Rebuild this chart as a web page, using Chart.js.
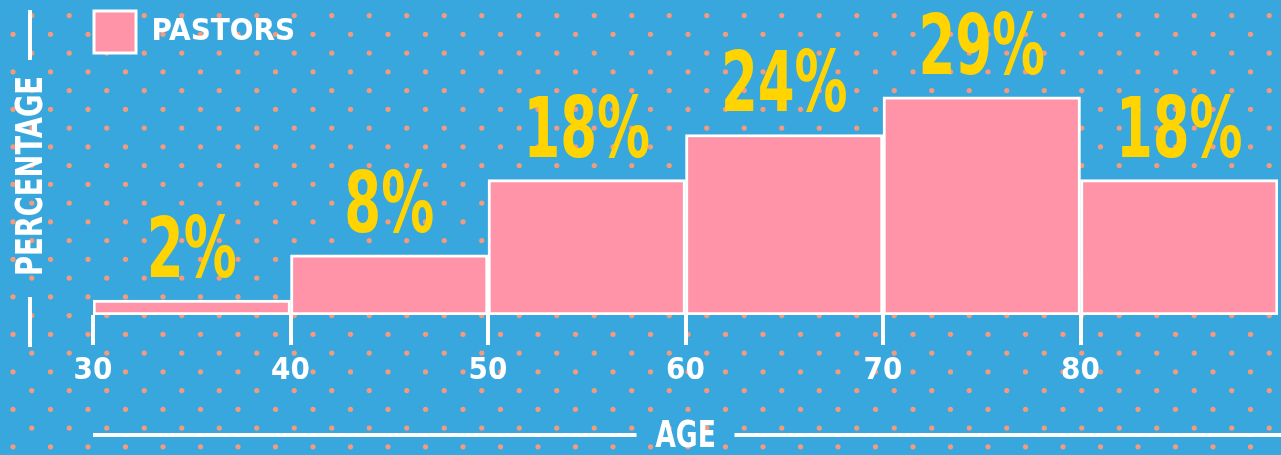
<!DOCTYPE html>
<html>
<head>
<meta charset="utf-8">
<script src="https://cdn.jsdelivr.net/npm/chart.js@4/dist/chart.umd.min.js"></script>
<style>
html, body { margin: 0; padding: 0; background: #38a7de; overflow: hidden; }
</style>
</head>
<body>
<canvas id="ageChart" width="1281" height="455"></canvas>
<script>
// histogram data: age bins of 10 years, share of pastors in %
const binStarts = [30, 40, 50, 60, 70, 80];
const binWidth = 10;
const pastors = [2, 8, 18, 24, 29, 18];
const tickValues = [30, 40, 50, 60, 70, 80, 90];
const seriesName = 'PASTORS';
const xTitle = 'AGE';
const yTitle = 'PERCENTAGE';

const FONT = "'DejaVu Sans Condensed', 'Liberation Sans Narrow', Roboto, sans-serif";
const BLUE = '#38a7de';
const DOT = '#f59a7b';
const PINK = '#ff93a8';
const YELLOW = '#ffd400';

// blue backdrop with the staggered dot pattern
const dotBackground = {
  id: 'dotBackground',
  beforeDraw(chart) {
    const ctx = chart.ctx;
    ctx.save();
    ctx.fillStyle = BLUE;
    ctx.fillRect(0, 0, chart.width, chart.height);
    ctx.fillStyle = DOT;
    const step = 37.5;
    for (let y = -3.2; y < chart.height + step; y += step) {
      for (let x = 13; x < chart.width + step; x += step) {
        ctx.beginPath();
        ctx.arc(x, y + 37.5, 2.6, 0, Math.PI * 2);
        ctx.fill();
        ctx.beginPath();
        ctx.arc(x + step / 2, y + 18.8, 2.6, 0, Math.PI * 2);
        ctx.fill();
      }
    }
    ctx.restore();
  }
};

// squeezed text, the original uses a condensed face
function narrowText(ctx, text, x, y, sx) {
  ctx.save();
  ctx.translate(x, y);
  ctx.scale(sx, 1);
  ctx.fillText(text, 0, 0);
  ctx.restore();
}

// big yellow percentages above each bar
const valueLabels = {
  id: 'valueLabels',
  afterDatasetsDraw(chart) {
    const ctx = chart.ctx;
    const meta = chart.getDatasetMeta(0);
    ctx.save();
    ctx.fillStyle = YELLOW;
    ctx.font = 'bold 84px ' + FONT;
    ctx.textAlign = 'center';
    ctx.textBaseline = 'alphabetic';
    meta.data.forEach((bar, i) => {
      narrowText(ctx, pastors[i] + '%', bar.x, bar.y - 23, 0.7);
    });
    ctx.restore();
  }
};

// axis titles with the white rules beside them
const axisTitles = {
  id: 'axisTitles',
  afterDraw(chart) {
    const ctx = chart.ctx;
    const area = chart.chartArea;
    ctx.save();
    ctx.fillStyle = '#fff';
    ctx.strokeStyle = '#fff';
    ctx.lineWidth = 4;
    ctx.font = 'bold 38px ' + FONT;
    ctx.textAlign = 'center';
    ctx.textBaseline = 'middle';

    // bottom: ---- AGE ----
    const cx = (area.left + area.right) / 2;
    const by = 435;
    narrowText(ctx, xTitle, cx, by + 2, 0.78);
    ctx.beginPath();
    ctx.moveTo(area.left, by); ctx.lineTo(cx - 49, by);
    ctx.moveTo(cx + 49, by); ctx.lineTo(chart.width, by);
    ctx.stroke();

    // left: rotated PERCENTAGE between two short rules
    const lx = 30;
    ctx.beginPath();
    ctx.moveTo(lx, 10); ctx.lineTo(lx, 60);
    ctx.moveTo(lx, 297); ctx.lineTo(lx, 347);
    ctx.stroke();
    ctx.save();
    ctx.translate(lx + 2, 176);
    ctx.rotate(-Math.PI / 2);
    narrowText(ctx, yTitle, 0, 0, 0.8);
    ctx.restore();
    ctx.restore();
  }
};

new Chart(document.getElementById('ageChart'), {
  type: 'bar',
  data: {
    datasets: [{
      label: seriesName,
      data: binStarts.map((b, i) => ({ x: b + binWidth / 2, y: pastors[i] })),
      backgroundColor: PINK,
      borderColor: '#ffffff',
      borderWidth: 3,
      borderSkipped: false,
      barPercentage: 1,
      categoryPercentage: 1
    }]
  },
  options: {
    responsive: false,
    animation: false,
    layout: { padding: { left: 83, right: 3, top: 0, bottom: 0 } },
    plugins: {
      tooltip: { enabled: false },
      legend: {
        position: 'top',
        align: 'start',
        labels: {
          boxWidth: 42,
          boxHeight: 42,
          padding: 11,
          color: '#ffffff',
          font: { family: FONT, size: 31, weight: 'bold' }
        }
      }
    },
    scales: {
      x: {
        type: 'linear',
        min: 30,
        max: 90,
        offset: false,
        afterBuildTicks: (scale) => { scale.ticks = tickValues.map(v => ({ value: v })); },
        afterFit: (scale) => { scale.height = 140; },
        border: { display: false },
        grid: {
          offset: false,
          drawOnChartArea: false,
          drawTicks: true,
          tickLength: 30,
          color: '#ffffff',
          lineWidth: 4
        },
        ticks: {
          color: '#ffffff',
          padding: 7,
          maxRotation: 0,
          font: { family: FONT, size: 31, weight: 'bold' },
          callback: (v) => (v < 90 ? String(v) : null)
        }
      },
      y: {
        min: 0,
        max: 33.5,
        afterFit: (scale) => { scale.width = 10; },
        border: { display: false },
        grid: { display: false },
        ticks: { display: false }
      }
    }
  },
  plugins: [dotBackground, valueLabels, axisTitles]
});
</script>
</body>
</html>
